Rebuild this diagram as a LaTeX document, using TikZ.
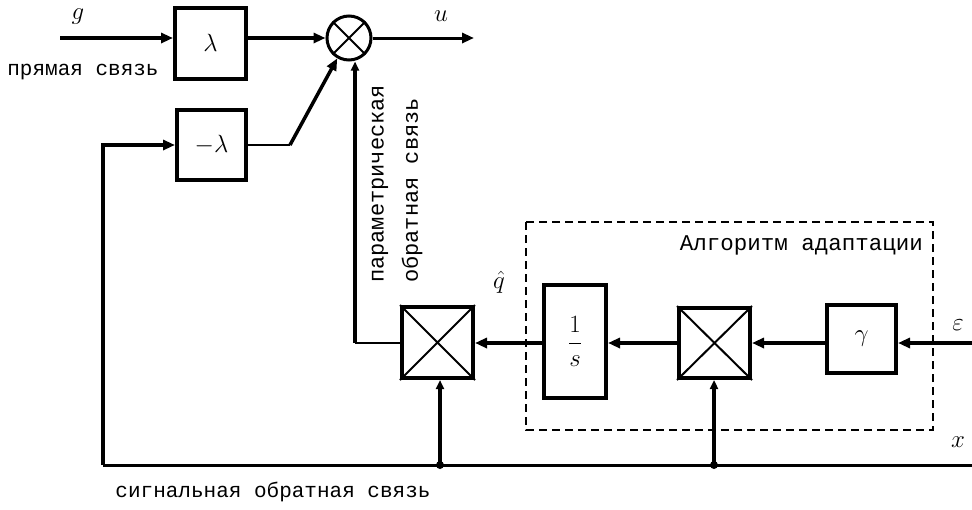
\documentclass[tikz,border=0pt]{standalone}
\usepackage{fontspec}
\newfontfamily\cyr{Liberation Mono}
\usetikzlibrary{arrows.meta,calc}
\tikzset{
  blk/.style={draw, line width=4pt, inner sep=0pt, font=\fontsize{28}{32}\selectfont},
  mul/.style={draw, line width=4pt, minimum width=71pt, minimum height=71pt, inner sep=0pt},
  conn/.style={line width=3.5pt},
  thinln/.style={line width=2pt},
  arr/.style={-{Triangle[length=12pt,width=10pt]}},
  sarr/.style={-{Triangle[length=9pt,width=8pt]}},
  lbl/.style={font=\cyr\fontsize{21}{24}\selectfont, inner sep=0pt},
  mlbl/.style={font=\fontsize{28}{32}\selectfont, inner sep=0pt},
  jdot/.style={circle, fill, inner sep=0pt, minimum size=8pt},
  dbox/.style={line width=2.5pt, dash pattern=on 8pt off 5pt},
}
\begin{document}
\begin{tikzpicture}[x=1pt,y=-1pt]
\useasboundingbox (0,0) rectangle (972,509);

% blocks
\node[blk, minimum width=71pt, minimum height=71pt] (lam) at (210.5,43) {$\lambda$};
\node[blk, minimum width=69pt, minimum height=70pt] (nlam) at (211.5,145) {$-\lambda$};
\node[circle, draw, line width=3pt, minimum size=44pt, inner sep=0pt] (sum) at (349,38) {};
\draw[thinln] (sum.north west) -- (sum.south east) (sum.north east) -- (sum.south west);
\node[mul] (m1) at (437.5,342.5) {};
\draw[thinln] (m1.north west) -- (m1.south east) (m1.north east) -- (m1.south west);
\node[blk, minimum width=62pt, minimum height=113pt, font=\fontsize{28}{32}\selectfont] (int) at (575,341.5) {$\displaystyle\frac{1}{s}$};
\node[mul, minimum height=70pt] (m2) at (714.5,343) {};
\draw[thinln] (m2.north west) -- (m2.south east) (m2.north east) -- (m2.south west);
\node[blk, minimum width=69pt, minimum height=68pt] (gam) at (861.5,339) {$\gamma$};

% adaptation algorithm frame
\draw[dbox] (526,222) rectangle (933,430);
\node[lbl, font=\cyr\fontsize{22.5}{26}\selectfont, anchor=east] (alg) at (923,245) {Алгоритм адаптации};

% coordinates
\coordinate (gin) at (60,38);
\coordinate (uout) at (474,38);
\coordinate (row) at (972,343);
\coordinate (xend) at (972,465);
\coordinate (xl) at (103,465);
\coordinate (j1) at (440,465);
\coordinate (j2) at (714,465);
\coordinate (kink) at (290,145);
\coordinate (pfb) at (355,343);

% connectors
\draw[conn,arr] (gin) -- (gin -| lam.west);
\draw[conn,arr] (lam.east |- sum) -- (sum.west);
\draw[line width=3pt,arr] (sum.east) -- (uout);
\draw[thinln] (nlam.east) -- (kink);
\draw[conn,arr] (kink) -- (sum.240);
\draw[conn,sarr] (pfb) -- (pfb |- sum.south);
\draw[thinln] (pfb) -- (pfb -| m1.west);
\draw[conn,arr] (row -| int.west) -- (row -| m1.east);
\draw[conn,arr] (row -| m2.west) -- (row -| int.east);
\draw[conn,arr] (row -| gam.west) -- (row -| m2.east);
\draw[conn,arr] (row) -- (row -| gam.east);
\draw[line width=3pt] (xend) -- (xl);
\draw[conn,arr] (xl) -- (xl |- nlam.west) -- (nlam.west);
\draw[conn,sarr] (j1) -- (j1 |- m1.south);
\draw[conn,sarr] (j2) -- (j2 |- m2.south);
\node[jdot] (d1) at (j1) {};
\node[jdot] (d2) at (j2) {};

% labels
\node[mlbl] (g) at (78,17) {$g$};
\node[mlbl] (u) at (441,16) {$u$};
\node[lbl] (pr) at (83,72) {прямая связь};
\node[lbl, font=\cyr\fontsize{22}{26}\selectfont, rotate=90, anchor=west] (p1) at (380,283) {параметрическая};
\node[lbl, font=\cyr\fontsize{22}{26}\selectfont, rotate=90, anchor=west] (p2) at (412,283) {обратная связь};
\node[mlbl] (q) at (499,282) {$\hat{q}$};
\node[mlbl] (eps) at (958,325) {$\varepsilon$};
\node[mlbl] (x) at (958,442) {$x$};
\node[lbl] (sig) at (273,492) {сигнальная обратная связь};
\end{tikzpicture}
\end{document}
